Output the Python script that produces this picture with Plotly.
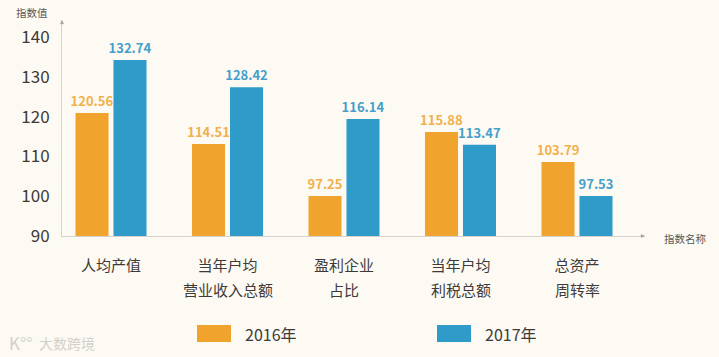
import plotly.graph_objects as go

categories = ["c0", "c1", "c2", "c3", "c4"]
first_lines = ["人均产值", "当年户均", "盈利企业", "当年户均", "总资产"]
second_lines = ["", "营业收入总额", "占比", "利税总额", "周转率"]
tick_values = [90, 100, 110, 120, 130, 140]
series_2016 = [120.9, 113.1, 100.05, 116.1, 108.6]
series_2017 = [134.2, 127.4, 119.4, 112.9, 100.05]
labels_2016 = ["120.56", "114.51", "97.25", "115.88", "103.79"]
labels_2017 = ["132.74", "128.42", "116.14", "113.47", "97.53"]

FONT = "Noto Sans CJK SC"
BG = "#FDFAF3"
ORANGE = "#F0A42E"
BLUE = "#2E9BC9"
LINE = "#D6D3CE"
W, H = 719, 357
L, R, T, B = 62, 645, 20, 236

def px(x): return (x - L) / (R - L)
def py(y): return (B - y) / (B - T)

def label(x, y, text, size, color, xanchor="center"):
    return dict(x=px(x), y=py(y), xref="paper", yref="paper", text=text, showarrow=False,
                xanchor=xanchor, yanchor="middle", font=dict(size=size, color=color, family=FONT))

fig = go.Figure()
fig.add_bar(x=categories, y=series_2016, name="2016年", marker_color=ORANGE, marker_line_width=0,
            text=labels_2016, textposition="outside", cliponaxis=False, constraintext="none",
            textfont=dict(color="#F1B04C", size=13, family=FONT, weight="bold"))
fig.add_bar(x=categories, y=series_2017, name="2017年", marker_color=BLUE, marker_line_width=0,
            text=labels_2017, textposition="outside", cliponaxis=False, constraintext="none",
            textfont=dict(color="#469FCB", size=13, family=FONT, weight="bold"))

ann = []
for c, s in zip(categories, second_lines):
    if s:
        ann.append(dict(x=c, xref="x", y=py(289.5), yref="paper", text=s, showarrow=False,
                        font=dict(size=15, color="#3E3A39", family=FONT), yanchor="middle"))
ann += [
    label(32, 13, "指数值", 10.5, "#595757"),
    label(685, 238, "指数名称", 10.5, "#595757"),
    # axis arrowheads
    dict(x=px(62), y=1, ax=0, ay=6, xref="paper", yref="paper", axref="pixel", ayref="pixel",
         text="", showarrow=True, arrowhead=2, arrowsize=0.8, arrowwidth=1, arrowcolor="#A9A6A2"),
    dict(x=1, y=py(236), ax=-6, ay=0, xref="paper", yref="paper", axref="pixel", ayref="pixel",
         text="", showarrow=True, arrowhead=2, arrowsize=0.8, arrowwidth=1, arrowcolor="#A9A6A2"),
    # legend labels
    label(243, 334, "2016年", 16, "#3E3A39", "left"),
    label(483, 334, "2017年", 16, "#3E3A39", "left"),
    # watermark
    label(7, 342, "K°°", 17, "#D2D0CC", "left"),
    label(37, 343, "大数跨境", 14, "#D2D0CC", "left"),
]
shapes = [
    dict(type="rect", xref="paper", yref="paper", x0=px(197), x1=px(231), y0=py(325), y1=py(342),
         fillcolor=ORANGE, line_width=0),
    dict(type="rect", xref="paper", yref="paper", x0=px(437), x1=px(471), y0=py(325), y1=py(342),
         fillcolor=BLUE, line_width=0),
]

step = 116.5
x0 = (L - 111) / step
x1 = (R - 111) / step
fig.update_layout(
    width=W, height=H, autosize=False,
    margin=dict(l=L, r=W - R, t=T, b=H - B, pad=0),
    paper_bgcolor=BG, plot_bgcolor=BG, showlegend=False,
    barmode="group", bargap=0.348, bargroupgap=0.13,
    font=dict(family=FONT),
    annotations=ann, shapes=shapes,
    xaxis=dict(type="category", range=[x0, x1], tickmode="array", tickvals=categories, ticktext=first_lines,
               showgrid=False, showline=True, linecolor=LINE, linewidth=1, ticks="", zeroline=False,
               tickfont=dict(size=15, color="#3E3A39", family=FONT), ticklabelstandoff=16),
    yaxis=dict(range=[90, 90 + (B - T) / 3.98], tickvals=tick_values, showgrid=False, showline=True,
               linecolor=LINE, linewidth=1,
               zeroline=False, ticks="", tickfont=dict(size=17, color="#3E3A39", family=FONT), ticklabelstandoff=8),
)
fig.write_html("out.html", config={"displayModeBar": False},
               post_script="document.body.style.margin='0';document.body.style.background='%s';" % BG)
